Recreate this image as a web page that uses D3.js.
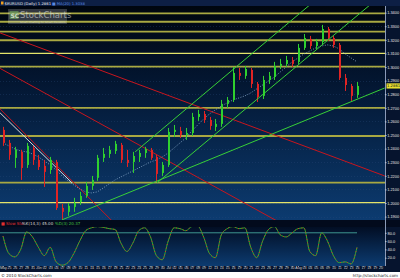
<!DOCTYPE html>
<html>
<head>
<meta charset="utf-8">
<script src="https://cdn.jsdelivr.net/npm/d3@7"></script>
<style>
  body { margin: 0; background: #fff; }
  svg { display: block; font-family: "DejaVu Sans", Arial, sans-serif; }
</style>
</head>
<body>
<svg id="chart" width="400" height="278"></svg>
<script>
// daily candles, EUR/USD
var dates = ["2010-05-24","2010-05-25","2010-05-26","2010-05-27","2010-05-28","2010-05-31",
  "2010-06-01","2010-06-02","2010-06-03","2010-06-04","2010-06-07","2010-06-08","2010-06-09","2010-06-10","2010-06-11",
  "2010-06-14","2010-06-15","2010-06-16","2010-06-17","2010-06-18","2010-06-21","2010-06-22","2010-06-23","2010-06-24",
  "2010-06-25","2010-06-28","2010-06-29","2010-06-30",
  "2010-07-01","2010-07-02","2010-07-05","2010-07-06","2010-07-07","2010-07-08","2010-07-09","2010-07-12","2010-07-13",
  "2010-07-14","2010-07-15","2010-07-16","2010-07-19","2010-07-20","2010-07-21","2010-07-22","2010-07-23","2010-07-26",
  "2010-07-27","2010-07-28","2010-07-29","2010-07-30",
  "2010-08-02","2010-08-03","2010-08-04","2010-08-05","2010-08-06","2010-08-09","2010-08-10","2010-08-11","2010-08-12",
  "2010-08-13","2010-08-16"];
var futureDates = ["2010-08-17","2010-08-18","2010-08-19","2010-08-20"];

var opens = [1.2538,1.2442,1.2332,1.2376,1.2280,1.2405,1.2317,1.2273,1.2243,1.2302,
  1.1964,1.1935,1.1971,1.2008,1.2052,1.2126,1.2185,1.2332,1.2361,1.2383,
  1.2427,1.2317,1.2302,1.2339,1.2368,1.2391,1.2339,1.2221,1.2280,1.2523,
  1.2530,1.2501,1.2515,1.2633,1.2655,1.2611,1.2560,1.2582,1.2729,1.2758,
  1.2957,1.2935,1.2979,1.2876,1.2788,1.2905,1.2927,1.3008,1.3023,1.3052,
  1.3038,1.3141,1.3207,1.3155,1.3185,1.3280,1.3214,1.3163,1.2920,1.2861,
  1.2795];
var highs = [1.2560,1.2464,1.2413,1.2391,1.2442,1.2420,1.2354,1.2317,1.2339,1.2317,
  1.1993,1.2001,1.2038,1.2082,1.2155,1.2199,1.2354,1.2405,1.2420,1.2457,
  1.2442,1.2391,1.2376,1.2391,1.2413,1.2405,1.2354,1.2302,1.2552,1.2574,
  1.2560,1.2552,1.2663,1.2685,1.2677,1.2633,1.2618,1.2758,1.2780,1.3001,
  1.2993,1.3008,1.2993,1.2890,1.2935,1.2964,1.3038,1.3060,1.3082,1.3074,
  1.3170,1.3243,1.3229,1.3207,1.3310,1.3295,1.3229,1.3177,1.2949,1.2876,
  1.2890];
var lows = [1.2420,1.2317,1.2258,1.2170,1.2258,1.2280,1.2243,1.2118,1.2214,1.1949,
  1.1876,1.1905,1.1935,1.1986,1.2038,1.2096,1.2163,1.2302,1.2332,1.2361,
  1.2295,1.2265,1.2221,1.2302,1.2332,1.2317,1.2155,1.2199,1.2265,1.2486,
  1.2479,1.2464,1.2493,1.2604,1.2589,1.2538,1.2530,1.2560,1.2699,1.2743,
  1.2905,1.2913,1.2846,1.2743,1.2765,1.2876,1.2905,1.2986,1.3001,1.3001,
  1.3023,1.3126,1.3133,1.3133,1.3163,1.3192,1.3141,1.2905,1.2824,1.2751,
  1.2773];
var closes = [1.2442,1.2354,1.2391,1.2258,1.2420,1.2317,1.2265,1.2229,1.2317,1.1964,
  1.1935,1.1979,1.2001,1.2052,1.2126,1.2170,1.2332,1.2361,1.2391,1.2435,
  1.2317,1.2295,1.2346,1.2368,1.2398,1.2332,1.2214,1.2280,1.2523,1.2538,
  1.2501,1.2515,1.2633,1.2655,1.2611,1.2567,1.2582,1.2729,1.2758,1.2957,
  1.2935,1.2986,1.2876,1.2780,1.2905,1.2935,1.3008,1.3023,1.3052,1.3023,
  1.3141,1.3214,1.3155,1.3185,1.3280,1.3214,1.3163,1.2920,1.2868,1.2788,
  1.2861];
var ma = [1.2442,1.2420,1.2398,1.2383,1.2376,1.2361,1.2339,1.2310,1.2280,1.2243,
  1.2199,1.2163,1.2133,1.2104,1.2082,1.2074,1.2082,1.2111,1.2141,1.2170,
  1.2192,1.2214,1.2236,1.2258,1.2280,1.2302,1.2317,1.2339,1.2368,1.2405,
  1.2442,1.2479,1.2530,1.2574,1.2618,1.2655,1.2685,1.2714,1.2736,1.2758,
  1.2773,1.2788,1.2810,1.2839,1.2868,1.2898,1.2927,1.2964,1.3001,1.3038,
  1.3067,1.3096,1.3118,1.3141,1.3155,1.3163,1.3155,1.3133,1.3096,1.3067,
  1.3038];
var stochK = [72,30,22,40,82,70,45,25,45,10,
  2,8,30,60,85,92,95,93,90,88,
  55,35,55,85,92,70,25,15,60,92,
  90,85,95,96,70,30,20,75,90,95,
  90,92,45,20,60,88,95,75,70,80,
  90,92,35,25,80,60,25,8,10,5,
  45];

// horizontal support/resistance levels
var levels = [1.3395,1.3333,1.3260,1.3197,1.3100,1.3003,1.2700,1.2493,1.2150,1.2003];
var brightLevels = [1.3100,1.2003];
var priceTicks = [1.34,1.33,1.32,1.31,1.30,1.29,1.28,1.27,1.26,1.25,1.24,1.23,1.22,1.21,1.20,1.19];
var stochTicks = [20,40,60,80];

// trend lines: [index1, price1, index2, price2]
var redLines = [[-0.5,1.3251,64.7,1.2199],[-0.5,1.2990,46.9,1.1857],[-0.5,1.2692,19,1.1846]];
var whiteLines = [[-0.5,1.2663,11.7,1.2148]];
var greenLines = [[10,1.1876,64.7,1.2846],[26.1,1.2148,62.2,1.3457],[22.4,1.2376,52,1.3457]];

var svg = d3.select("#chart");
var plotR = 385, mainT = 6, mainB = 220, oscT = 227, oscB = 266;

var parse = d3.timeParse("%Y-%m-%d");
var allDates = dates.concat(futureDates).map(parse);

var x = d3.scaleLinear().domain([0, 60]).range([3, 357]);
var y = d3.scaleLinear().domain([1.1875, 1.3449]).range([mainB, mainT]);
var ys = d3.scaleLinear().domain([0, 100]).range([oscB, 224.5]);

var defs = svg.append("defs");
var g1 = defs.append("linearGradient").attr("id", "bgMain")
    .attr("x1", 0).attr("y1", 0).attr("x2", 0).attr("y2", 1);
g1.append("stop").attr("offset", "0%").attr("stop-color", "#00060f");
g1.append("stop").attr("offset", "35%").attr("stop-color", "#031631");
g1.append("stop").attr("offset", "100%").attr("stop-color", "#0c3b70");
var g2 = defs.append("linearGradient").attr("id", "bgOsc")
    .attr("x1", 0).attr("y1", 0).attr("x2", 0).attr("y2", 1);
g2.append("stop").attr("offset", "0%").attr("stop-color", "#020e24");
g2.append("stop").attr("offset", "100%").attr("stop-color", "#0c3b70");
defs.append("clipPath").attr("id", "clipMain").append("rect")
    .attr("x", 0).attr("y", mainT).attr("width", plotR).attr("height", mainB - mainT);
defs.append("clipPath").attr("id", "clipOsc").append("rect")
    .attr("x", 0).attr("y", oscT).attr("width", plotR).attr("height", oscB - oscT);

// frame backgrounds
svg.append("rect").attr("width", 400).attr("height", 278).attr("fill", "#06142e");
svg.append("rect").attr("x", 0).attr("y", 0).attr("width", 400).attr("height", mainT).attr("fill", "#0d1f45");
svg.append("rect").attr("x", 0).attr("y", mainT).attr("width", plotR).attr("height", mainB - mainT).attr("fill", "url(#bgMain)");
svg.append("rect").attr("x", 0).attr("y", mainB).attr("width", 400).attr("height", oscT - mainB).attr("fill", "#020a1c");
svg.append("rect").attr("x", 0).attr("y", oscT).attr("width", plotR).attr("height", oscB - oscT).attr("fill", "url(#bgOsc)");
svg.append("rect").attr("x", 0).attr("y", 272).attr("width", 400).attr("height", 6).attr("fill", "#fff");

var main = svg.append("g").attr("clip-path", "url(#clipMain)");

// faint grid
main.selectAll(".grid").data(priceTicks).enter().append("line")
    .attr("x1", 0).attr("x2", plotR)
    .attr("y1", function(d) { return Math.round(y(d)) + 0.5; })
    .attr("y2", function(d) { return Math.round(y(d)) + 0.5; })
    .attr("stroke", "#2a4a78").attr("stroke-width", 0.6).attr("stroke-dasharray", "1,2").attr("opacity", 0.6);

// watermark
var wm = svg.append("g");
wm.append("rect").attr("x", 8).attr("y", 9).attr("width", 59).attr("height", 15).attr("fill", "#fff").attr("opacity", 0.2);
wm.append("rect").attr("x", 9.5).attr("y", 11).attr("width", 9).attr("height", 8).attr("fill", "#6a9a5a").attr("opacity", 0.7);
wm.append("text").attr("x", 10.5).attr("y", 17.5).attr("font-size", 6).attr("font-weight", "bold")
    .attr("fill", "#e8f0e0").attr("opacity", 0.8).text("SC");
wm.append("text").attr("x", 20).attr("y", 18).attr("font-size", 8.5)
    .attr("fill", "#f0f0f0").attr("opacity", 0.55).text("StockCharts");
wm.append("text").attr("x", 20).attr("y", 22.5).attr("font-size", 2.6)
    .attr("fill", "#ffffff").attr("opacity", 0.5).text("Smart Charting for Smart Investors");

// horizontal levels
main.selectAll(".lvl").data(levels).enter().append("line")
    .attr("x1", 0).attr("x2", plotR)
    .attr("y1", function(d) { return y(d); }).attr("y2", function(d) { return y(d); })
    .attr("stroke", function(d) { return brightLevels.indexOf(d) >= 0 ? "#e4e46a" : "#a9a942"; })
    .attr("stroke-width", function(d) { return brightLevels.indexOf(d) >= 0 ? 1.2 : 1.8; });

function drawLines(data, color, w) {
  main.selectAll(null).data(data).enter().append("line")
      .attr("x1", function(d) { return x(d[0]); }).attr("y1", function(d) { return y(d[1]); })
      .attr("x2", function(d) { return x(d[2]); }).attr("y2", function(d) { return y(d[3]); })
      .attr("stroke", color).attr("stroke-width", w);
}
drawLines(redLines, "#c8161e", 1);
drawLines(whiteLines, "#d8d8d8", 1);

// moving average (dotted)
main.append("path").datum(ma)
    .attr("d", d3.line().x(function(d, i) { return x(i); }).y(function(d) { return y(d); }))
    .attr("fill", "none").attr("stroke", "#8fb0d0").attr("stroke-width", 0.8).attr("stroke-dasharray", "1,1.5");

// candles
var idx = d3.range(closes.length);
var candle = main.selectAll(".candle").data(idx).enter().append("g");
candle.append("line")
    .attr("x1", function(i) { return Math.round(x(i)) + 0.5; })
    .attr("x2", function(i) { return Math.round(x(i)) + 0.5; })
    .attr("y1", function(i) { return y(highs[i]); })
    .attr("y2", function(i) { return y(lows[i]); })
    .attr("stroke", function(i) { return closes[i] >= opens[i] ? "#2fd02f" : "#e02424"; })
    .attr("stroke-width", 1);
candle.append("rect")
    .attr("x", function(i) { return Math.round(x(i)); })
    .attr("width", 2)
    .attr("y", function(i) { return y(Math.max(opens[i], closes[i])); })
    .attr("height", function(i) { return Math.max(1, Math.abs(y(opens[i]) - y(closes[i]))); })
    .attr("fill", function(i) { return closes[i] >= opens[i] ? "#2fd02f" : "#e02424"; });

drawLines(greenLines, "#38d038", 1);

// header
svg.append("rect").attr("x", 1).attr("y", 1.5).attr("width", 2.5).attr("height", 3).attr("fill", "#f0a020");
svg.append("text").attr("x", 4.5).attr("y", 4.6).attr("font-size", 3.8).attr("fill", "#e8e8e8")
    .text("$EURUSD (Daily) " + d3.format(".4f")(closes[closes.length - 1]));
svg.append("text").attr("x", 52).attr("y", 4.6).attr("font-size", 3.8).attr("fill", "#5a8ae0")
    .text("\u25a0 MA(20) " + d3.format(".4f")(ma[ma.length - 1]));

// price axis
svg.append("line").attr("x1", plotR + 0.5).attr("x2", plotR + 0.5).attr("y1", mainT).attr("y2", oscB)
    .attr("stroke", "#8a9ab8").attr("stroke-width", 1);
var ay = svg.append("g").attr("transform", "translate(" + plotR + ",0)")
    .call(d3.axisRight(y).tickValues(priceTicks).tickSize(1.5).tickFormat(d3.format(".4f")));
ay.select(".domain").remove();
ay.selectAll("text").attr("font-size", 3.9).attr("fill", "#e6e6e6").attr("x", 2.2);
ay.selectAll("line").attr("stroke", "#c0c8d8");

// last price marker
var last = closes[closes.length - 1];
svg.append("rect").attr("x", plotR + 1.5).attr("y", y(last) - 2.6).attr("width", 13.5).attr("height", 5.2).attr("fill", "#e8e030");
svg.append("text").attr("x", plotR + 2).attr("y", y(last) + 1.5).attr("font-size", 3.8).attr("fill", "#101010")
    .text(d3.format(".4f")(last));

// stochastic panel
var osc = svg.append("g").attr("clip-path", "url(#clipOsc)");
osc.append("line").attr("x1", 0).attr("x2", x(60)).attr("y1", ys(80)).attr("y2", ys(80))
    .attr("stroke", "#4cb8a8").attr("stroke-width", 0.8);
var sline = d3.line().x(function(d, i) { return x(i); }).y(function(d) { return ys(d); }).curve(d3.curveMonotoneX);
osc.append("path").datum(stochK).attr("d", sline)
    .attr("fill", "none").attr("stroke", "#2fc02f").attr("stroke-width", 0.9);
osc.append("path").datum(stochK).attr("d", sline)
    .attr("fill", "none").attr("stroke", "#e02424").attr("stroke-width", 0.9).attr("stroke-dasharray", "1,2.5");

var as = svg.append("g").attr("transform", "translate(" + plotR + ",0)")
    .call(d3.axisRight(ys).tickValues(stochTicks).tickSize(1.5).tickFormat(d3.format(".1f")));
as.select(".domain").remove();
as.selectAll("text").attr("font-size", 3.9).attr("fill", "#e6e6e6").attr("x", 2.5);
as.selectAll("line").attr("stroke", "#c0c8d8");

// stochastic legend
svg.append("text").attr("x", 1).attr("y", 225.3).attr("font-size", 4).attr("fill", "#e03030")
    .text("\u25a0 Slow Sto");
svg.append("text").attr("x", 22).attr("y", 225.3).attr("font-size", 4).attr("fill", "#d8d8d8")
    .text("%K(14,3) " + d3.format(".2f")(stochK[stochK.length - 1]));
svg.append("text").attr("x", 55).attr("y", 225.3).attr("font-size", 4).attr("fill", "#40c040")
    .text("%D(3) 20.37");

// date axis
var fmtMonth = d3.timeFormat("%b"), fmtDay = d3.timeFormat("%d");
var ax = svg.append("g").attr("transform", "translate(0," + oscB + ")")
    .call(d3.axisBottom(x).tickValues(d3.range(allDates.length)).tickSize(1)
      .tickFormat(function(i) {
        if (i === 0 || allDates[i].getMonth() !== allDates[i - 1].getMonth()) return fmtMonth(allDates[i]);
        return fmtDay(allDates[i]);
      }));
ax.select(".domain").remove();
ax.selectAll("text").attr("font-size", 3.6).attr("fill", "#d0d0d0").attr("dy", "0.55em").attr("y", 1.5);
ax.selectAll("line").attr("stroke", "#8090b0");

// footer
svg.append("text").attr("x", 1).attr("y", 276.8).attr("font-size", 4).attr("fill", "#222")
    .text("\u00a9 2010 StockCharts.com");
svg.append("text").attr("x", 398).attr("y", 276.8).attr("font-size", 4).attr("fill", "#222")
    .attr("text-anchor", "end").text("http://stockcharts.com");
</script>
</body>
</html>
